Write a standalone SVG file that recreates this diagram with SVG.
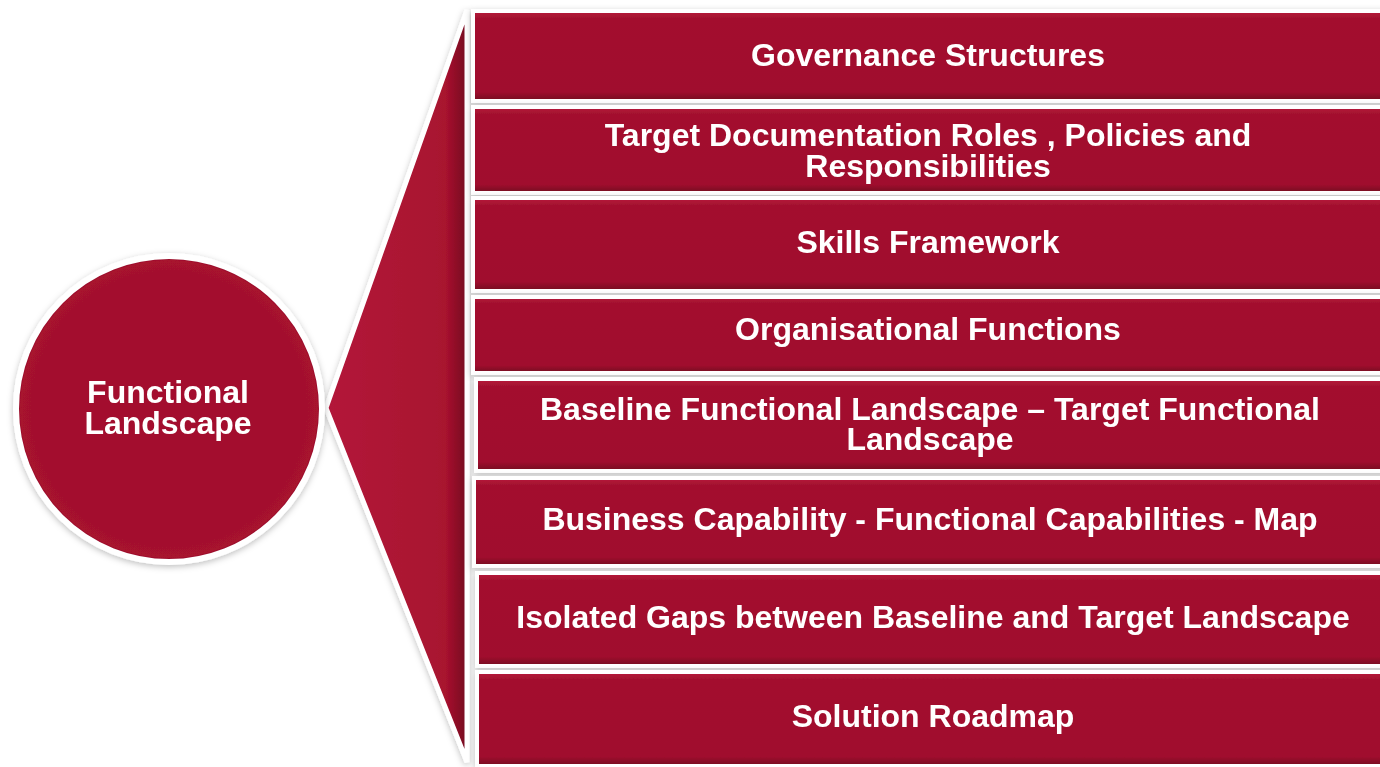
<svg xmlns="http://www.w3.org/2000/svg" width="1380" height="767" viewBox="0 0 1380 767">
<defs>
<linearGradient id="bev" x1="0" y1="0" x2="0" y2="1">
<stop offset="0" stop-color="#b8173c"/>
<stop offset="0.08" stop-color="#a3112f"/>
<stop offset="0.9" stop-color="#a0102e"/>
<stop offset="1" stop-color="#720820"/>
</linearGradient>
<linearGradient id="fun" x1="0" y1="0" x2="1" y2="0">
<stop offset="0" stop-color="#b3143a"/>
<stop offset="0.85" stop-color="#a8122f"/>
<stop offset="1" stop-color="#74091f"/>
</linearGradient>
<radialGradient id="circ" cx="0.5" cy="0.5" r="0.5">
<stop offset="0.9" stop-color="#a3112f"/>
<stop offset="0.97" stop-color="#a8122f"/>
<stop offset="1" stop-color="#7a0a22"/>
</radialGradient>
<filter id="sh" x="-10%" y="-10%" width="120%" height="120%">
<feDropShadow dx="0" dy="2" stdDeviation="3" flood-color="#000" flood-opacity="0.25"/>
</filter>
</defs>
<style>
.bar{fill:url(#bev);stroke:#fff;stroke-width:4}
.t{font-family:"Liberation Sans",Arial,sans-serif;font-weight:bold;font-size:32px;fill:#fff;text-anchor:middle}
</style>
<rect width="1380" height="767" fill="#fff"/>
<g id="connectors">
<polygon points="326,408 467,10 467,762" fill="url(#fun)" stroke="#fff" stroke-width="5" stroke-linejoin="miter" filter="url(#sh)"/>
</g>
<g id="hub" filter="url(#sh)">
<circle cx="169" cy="409" r="153" fill="url(#circ)" stroke="#fff" stroke-width="6"/>
<text class="t" x="168" y="403">Functional</text>
<text class="t" x="168" y="434">Landscape</text>
</g>
<g id="n1" filter="url(#sh)">
<rect class="bar" x="473" y="11" width="915" height="90"/>
<text class="t" x="928" y="66">Governance Structures</text>
</g>
<g id="n2" filter="url(#sh)">
<rect class="bar" x="473" y="107" width="915" height="86"/>
<text class="t" x="928" y="146">Target Documentation Roles , Policies and</text>
<text class="t" x="928" y="177">Responsibilities</text>
</g>
<g id="n3" filter="url(#sh)">
<rect class="bar" x="473" y="198" width="915" height="93"/>
<text class="t" x="928" y="253">Skills Framework</text>
</g>
<g id="n4" filter="url(#sh)">
<rect class="bar" x="473" y="297" width="915" height="76"/>
<text class="t" x="928" y="340">Organisational Functions</text>
</g>
<g id="n5" filter="url(#sh)">
<rect class="bar" x="476" y="379" width="912" height="92"/>
<text class="t" x="930" y="420">Baseline Functional Landscape – Target Functional</text>
<text class="t" x="930" y="450">Landscape</text>
</g>
<g id="n6" filter="url(#sh)">
<rect class="bar" x="474" y="478" width="914" height="88"/>
<text class="t" x="930" y="530">Business Capability - Functional Capabilities - Map</text>
</g>
<g id="n7" filter="url(#sh)">
<rect class="bar" x="477" y="573" width="911" height="93"/>
<text class="t" x="933" y="628">Isolated Gaps between Baseline and Target Landscape</text>
</g>
<g id="n8" filter="url(#sh)">
<rect class="bar" x="477" y="672" width="911" height="94"/>
<text class="t" x="933" y="727">Solution Roadmap</text>
</g>
</svg>
